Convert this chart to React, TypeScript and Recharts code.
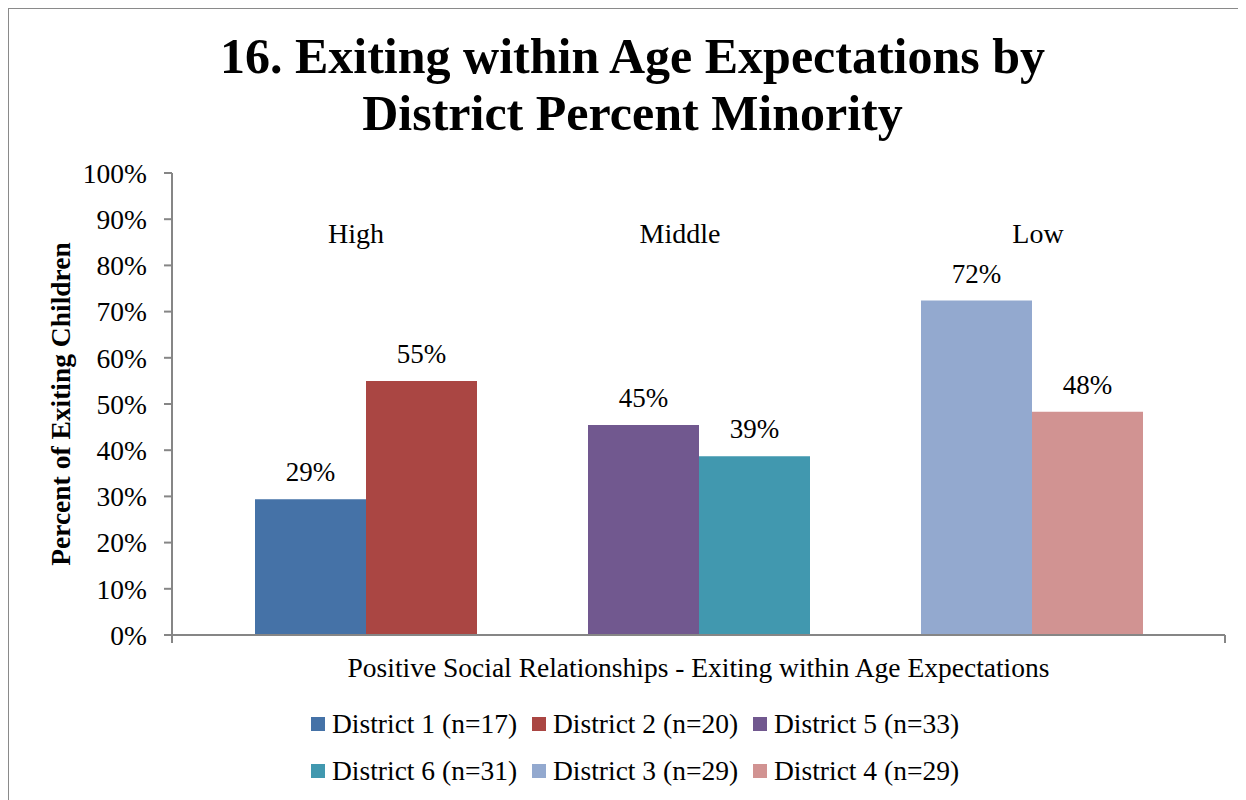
import React from "react";
import { BarChart, Bar, XAxis, YAxis, LabelList } from "recharts";

const category = "Positive Social Relationships - Exiting within Age Expectations";
const groupNames = ["High", "Middle", "Low"];
const seriesNames = [
  "District 1 (n=17)",
  "District 2 (n=20)",
  "District 5 (n=33)",
  "District 6 (n=31)",
  "District 3 (n=29)",
  "District 4 (n=29)",
];
const seriesValues = [0.294, 0.55, 0.4545, 0.387, 0.724, 0.483];
const seriesGroup = [0, 0, 1, 1, 2, 2];
const yTicks = [0, 0.1, 0.2, 0.3, 0.4, 0.5, 0.6, 0.7, 0.8, 0.9, 1];
const groupLabelLevel = 0.87;

const colors = ["#4572A7", "#AA4643", "#71588F", "#4198AF", "#93A9CF", "#D19392"];
const groupLabelDx = [-10, -19, 6];
const FONT = '"Liberation Serif", "Times New Roman", serif';
const AXIS = "#868686";

const data = [
  Object.fromEntries([["category", category], ...seriesValues.map((v, i) => [`s${i}`, v])]),
];

const pct = (v: any) => `${Math.round(Number(v) * 100)}%`;

// group name drawn above the pair of bars, at a fixed value level
const makeGroupLabel = (name: string, dx: number) => (props: any) => {
  const vb = props.viewBox ?? props;
  const x = Number(vb.x);
  const y = Number(vb.y);
  const w = Number(vb.width);
  const h = Number(vb.height);
  const v = Number(props.value);
  if (!v || !h) return null;
  const ly = y + h - (h * groupLabelLevel) / v;
  return (
    <text x={x + w + dx} y={ly} textAnchor="middle" dominantBaseline="central" fontFamily={FONT} fontSize={28} fill="#000">
      {name}
    </text>
  );
};

const renderXTick = (props: any) => {
  const { x, y, payload } = props;
  const half = Number(payload?.offset ?? 0);
  const axisY = y - 8;
  return (
    <g>
      {half > 0 && (
        <>
          <line x1={x - half} x2={x - half} y1={axisY} y2={axisY + 8} stroke={AXIS} strokeWidth={2} />
          <line x1={x + half} x2={x + half} y1={axisY} y2={axisY + 8} stroke={AXIS} strokeWidth={2} />
        </>
      )}
      <text x={x} y={axisY + 42} textAnchor="middle" fontFamily={FONT} fontSize={27.5} fill="#000">
        {payload.value}
      </text>
    </g>
  );
};

const renderYLabel = (props: any) => {
  const vb = props.viewBox ?? {};
  const cx = Number(vb.x ?? 0) + 51;
  const cy = Number(vb.y ?? 0) + Number(vb.height ?? 0) / 2;
  return (
    <text
      x={cx}
      y={cy}
      transform={`rotate(-90 ${cx} ${cy})`}
      textAnchor="middle"
      dominantBaseline="central"
      fontFamily={FONT}
      fontWeight="bold"
      fontSize={27.5}
      fill="#000"
    >
      Percent of Exiting Children
    </text>
  );
};

export default function App() {
  const bars: React.ReactNode[] = [];
  seriesNames.forEach((name, i) => {
    const g = seriesGroup[i];
    const firstOfGroup = i === 0 || seriesGroup[i - 1] !== g;
    bars.push(
      <Bar key={`s${i}`} dataKey={`s${i}`} name={name} fill={colors[i]} isAnimationActive={false}>
        <LabelList
          dataKey={`s${i}`}
          position="top"
          offset={18}
          formatter={pct}
          fill="#000"
          fontFamily={FONT}
          fontSize={27}
        />
        {firstOfGroup && (
          <LabelList dataKey={`s${i}`} content={makeGroupLabel(groupNames[g], groupLabelDx[g])} />
        )}
      </Bar>
    );
    const lastOfGroup = i === seriesNames.length - 1 || seriesGroup[i + 1] !== g;
    if (lastOfGroup && i !== seriesNames.length - 1) {
      bars.push(
        <Bar key={`gap${g}`} dataKey={`gap${g}`} fill="transparent" legendType="none" isAnimationActive={false} />
      );
    }
  });

  const legendRows = [seriesNames.slice(0, 3), seriesNames.slice(3, 6)];

  return (
    <div
      style={{
        position: "relative",
        width: 1237,
        height: 791,
        margin: "-1px 0 0 -1px",
        borderLeft: "2px solid #8a8a8a",
        borderTop: "2px solid #8a8a8a",
        background: "#fff",
      }}
    >
      <div
        style={{
          position: "absolute",
          left: 5,
          top: 19,
          width: 1237,
          textAlign: "center",
          fontFamily: FONT,
          fontWeight: "bold",
          fontSize: 50,
          lineHeight: "57px",
        }}
      >
        16. Exiting within Age Expectations by
        <br />
        District Percent Minority
      </div>

      <BarChart
        width={1237}
        height={791}
        data={data}
        margin={{ top: 164, right: 21, left: 0, bottom: 125 }}
        barSize={111}
        barGap={0}
      >
        <XAxis
          dataKey="category"
          height={40}
          tickSize={8}
          tickMargin={0}
          tickLine={false}
          tick={renderXTick}
          axisLine={{ stroke: AXIS, strokeWidth: 2 }}
        />
        <YAxis
          domain={[0, 1]}
          ticks={yTicks}
          tickFormatter={pct}
          width={163}
          tickSize={8}
          tickMargin={17}
          axisLine={{ stroke: AXIS, strokeWidth: 2 }}
          tickLine={{ stroke: AXIS, strokeWidth: 2 }}
          tick={{ fill: "#000", fontFamily: FONT, fontSize: 27.5 }}
          label={renderYLabel}
        />
        {bars}
      </BarChart>

      <div style={{ position: "absolute", left: 302, top: 691, fontFamily: FONT, fontSize: 27.5 }}>
        {legendRows.map((row, r) => (
          <div key={r} style={{ display: "flex", height: 47, alignItems: "center" }}>
            {row.map((name) => {
              const i = seriesNames.indexOf(name);
              return (
                <div key={name} style={{ display: "flex", alignItems: "center", width: 221 }}>
                  <span style={{ width: 14, height: 14, background: colors[i], marginRight: 7, display: "inline-block" }} />
                  <span>{name}</span>
                </div>
              );
            })}
          </div>
        ))}
      </div>
    </div>
  );
}
